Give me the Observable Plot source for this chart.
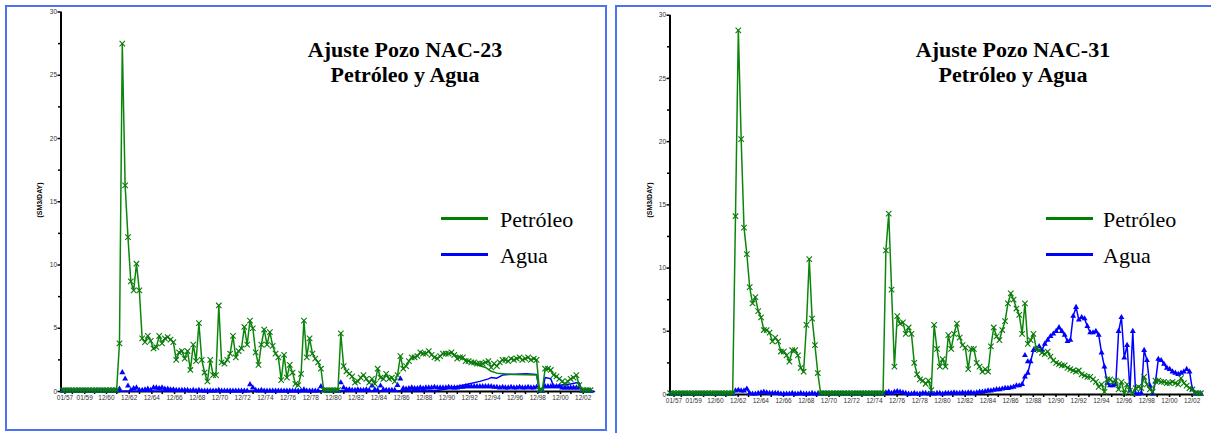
<!DOCTYPE html>
<html><head><meta charset="utf-8">
<script src="https://cdn.jsdelivr.net/npm/d3@7"></script>
<script src="https://cdn.jsdelivr.net/npm/@observablehq/plot@0.6"></script>
<style>
body{margin:0;background:#fff;width:1211px;height:433px;overflow:hidden;position:relative;font-family:"Liberation Sans",Arial,sans-serif}
.panel{position:absolute;border:2px solid #4a72f2;box-sizing:border-box}
.title{position:absolute;font-family:"Liberation Serif","Times New Roman",serif;font-weight:bold;font-size:22px;text-align:center;line-height:25px;white-space:nowrap;transform:translateX(-50%)}
.legtxt{position:absolute;font-family:"Liberation Serif","Times New Roman",serif;font-size:22px;line-height:25px;white-space:nowrap}
.legline{position:absolute;height:3px;width:47px}
.ylab{position:absolute;font-size:7px;font-weight:bold;white-space:nowrap;transform:translate(-50%,-50%) rotate(-90deg)}
.chart{position:absolute;top:0}
</style></head><body>
<div class="panel" style="left:5px;top:5px;width:602px;height:426px"></div>
<div class="panel" style="left:615px;top:5px;width:620px;height:460px"></div>
<div id="c1" class="chart" style="left:0px"></div>
<div id="c2" class="chart" style="left:615px"></div>

<div class="title" style="left:405px;top:37px">Ajuste Pozo NAC-23<br>Petróleo y Agua</div>
<div class="title" style="left:1013px;top:37px">Ajuste Pozo NAC-31<br>Petróleo y Agua</div>

<div class="legline" style="left:441px;top:217px;background:#008000"></div>
<div class="legtxt" style="left:500px;top:207px">Petróleo</div>
<div class="legline" style="left:441px;top:253px;background:#0000ff"></div>
<div class="legtxt" style="left:500px;top:243px">Agua</div>

<div class="legline" style="left:1046px;top:217px;background:#008000"></div>
<div class="legtxt" style="left:1103px;top:207px">Petróleo</div>
<div class="legline" style="left:1046px;top:253px;background:#0000ff"></div>
<div class="legtxt" style="left:1103px;top:243px">Agua</div>

<div class="ylab" style="left:39px;top:200px">(SM3/DAY)</div>
<div class="ylab" style="left:649px;top:200px">(SM3/DAY)</div>

<script>
// ---------- axis labels ----------
const xTickLabels = ["01/57","01/59","12/60","12/62","12/64","12/66","12/68","12/70","12/72","12/74","12/76","12/78","12/80","12/82","12/84","12/86","12/88","12/90","12/92","12/94","12/96","12/98","12/00","12/02"];
const yTicks = [0,5,10,15,20,25,30];
const yMinorTicks = [2.5,7.5,12.5,17.5,22.5,27.5];

// ---------- NAC-23 (quarterly history, first sample at oil23Start) ----------
const oil23Start = 1957.15;
const oil23 = [
0.1,0.1,0.1,0.1,0.1,0.1,0.1,0.1,0.1,0.1,0.1,0.1,0.1,0.1,0.1,0.1,0.1,0.1,0.1,
0.1,3.8,27.5,16.3,12.2,8.7,8.0,10.1,8.0,4.2,
3.9,4.4,4.0,3.4,3.5,4.4,3.8,4.2,4.3,4.1,
3.9,2.5,3.1,3.2,2.6,3.2,1.7,3.7,2.4,5.4,
2.5,1.5,0.8,2.5,1.3,1.3,6.8,2.3,2.2,2.5,
3.0,4.4,2.7,3.2,3.4,5.1,3.7,5.6,5.0,3.1,
2.1,3.7,4.9,3.7,4.7,3.6,3.0,2.7,0.9,2.9,
1.1,2.1,1.5,0.6,0.5,1.4,5.6,2.7,4.2,3.0,
2.6,2.3,1.8,0.1,
0.1,0.1,0.1,0.1,0.1,
4.6,2.0,1.6,1.4,1.2,
0.7,0.8,1.1,1.3,1.0,0.7,1.0,0.6,1.8,1.1,1.0,1.4,1.0,1.1,0.8,1.3,
2.8,
1.8,2.0,2.4,2.7,2.7,2.8,3.1,3.0,3.0,3.2,
2.9,2.7,2.6,2.8,3.0,3.0,3.0,3.1,2.9,2.6,
2.7,2.7,2.4,2.4,2.3,2.3,2.2,2.2,2.2,2.3,
2.4,1.9,2.2,2.0,2.3,2.5,2.5,2.4,2.6,2.5,
2.6,2.7,2.5,2.6,2.7,2.5,2.6,2.5,
0.1,0.1,1.8,1.8,1.7,1.3,1.2,1.0,0.8,0.6,0.8,1.0,1.1,1.3,0.5,0.1,0.1,0.1,0.1
];
const water23Start = 1957.15;
const water23 = [
0.03,0.03,0.03,0.03,0.03,0.03,0.03,0.03,0.03,0.03,0.03,0.03,0.03,0.03,0.03,0.03,0.03,0.03,0.03,
0.05,0.2,1.5,1.0,0.45,0.1,0.25,0.3,0.1,0.1,
0.15,0.2,0.1,0.3,0.3,0.25,0.3,0.2,0.2,0.15,
0.15,0.1,0.1,0.1,0.1,0.1,0.05,0.1,0.05,0.1,
0.05,0.05,0.05,0.05,0.05,0.05,0.1,0.05,0.05,0.05,
0.05,0.05,0.05,0.05,0.05,0.05,0.05,0.55,0.3,0.1,
0.05,0.1,0.05,0.05,0.05,0.05,0.05,0.05,0.05,0.05,
0.05,0.05,0.05,0.05,0.05,0.05,0.15,0.05,0.05,0.05,
0.05,0.05,0.4,0.1,0.03,0.03,0.03,0.03,0.03,0.7,
0.3,0.15,0.15,0.1,0.1,0.15,0.1,0.1,0.15,0.1,
0.45,0.15,0.1,0.45,0.15,0.1,0.1,0.1,0.1,0.5,
1.0,0.25,0.2,0.25,0.3,0.25,0.25,0.3,0.25,0.3,
0.3,0.3,0.35,0.3,0.3,0.3,0.3,0.35,0.3,0.3,
0.3,0.35,0.35,0.4,0.4,0.4,0.4,0.4,0.4,0.4,
0.4,0.4,0.4,0.35,0.35,0.3,0.35,0.3,0.3,0.35,
0.3,0.3,0.35,0.3,0.3,0.35,0.3,0.3,0.35,0.03,
0.03,0.4,0.4,0.4,0.4,0.4,0.4,0.3,0.3,0.3,
0.3,0.3,0.3,0.3,0.03,0.03,0.03,0.03
];
// simulated curves where they depart from the history: [year, value]
const oil23Sim = [[1991.4,3.0],[1992.4,2.6],[1993.4,2.2],[1994.4,1.9],[1994.9,1.6],[1995.4,1.45],[1996.9,1.35],[1998.9,1.3],[1999.15,0.1]];
const water23Sim = [[1957,0.02],[1990.0,0.05],[1990.9,0.2],[1991.9,0.4],[1992.9,0.6],[1993.9,0.8],[1994.65,1.0],[1994.9,1.1],[1995.4,1.05],[1995.9,1.3],[1996.4,1.35],[1998.0,1.4],[1998.9,1.35],[1999.15,0.0],[1999.4,0.0],[1999.65,1.1],[2000.15,1.0],[2000.4,0.4],[2000.9,0.5],[2001.9,0.6],[2002.4,0.7],[2002.65,0.7],[2002.9,0.0],[2004,0.0]];

// ---------- NAC-31 ----------
const oil31Start = 1957.02;
const oil31 = [
0.1,0.1,0.1,0.1,0.1,0.1,0.1,0.1,0.1,0.1,0.1,0.1,0.1,0.1,0.1,0.1,0.1,0.1,0.1,0.1,0.1,0.1,
0.1,
14.1,28.8,20.2,13.2,11.1,8.5,7.2,7.7,6.6,6.1,5.1,5.1,4.9,4.2,4.5,4.2,3.4,3.4,3.1,2.6,3.5,3.5,3.1,2.1,1.8,5.5,10.7,6.0,3.9,1.7,
0.1,0.1,0.1,0.1,0.1,0.1,0.1,0.1,0.1,0.1,0.1,0.1,0.1,0.1,0.1,0.1,0.1,0.1,0.1,0.1,0.1,0.1,0.1,
11.4,14.3,8.3,2.2,6.2,5.6,5.7,4.8,5.3,4.8,2.5,1.6,1.2,1.1,0.85,1.1,0.35,5.5,3.6,2.2,
2.8,2.2,4.7,3.6,4.8,5.6,4.5,3.9,3.7,2.0,
3.6,3.6,2.5,2.2,1.8,2.0,1.8,3.8,5.3,4.6,
4.3,5.1,5.8,7.2,8.0,7.5,6.8,6.3,4.8,7.2,
4.0,4.3,4.8,3.6,3.5,3.3,3.2,3.4,3.0,2.7,
2.5,2.4,2.3,2.3,2.1,2.0,1.9,1.8,1.9,1.6,
1.5,1.4,1.4,1.2,1.0,0.6,0.8,0.2,1.2,1.2,
1.0,1.1,0.4,1.0,0.1,0.8,0.3,0.1,0.5,0.6,
0.5,1.4,0.8,0.4,0.2,1.1,1.1,1.0,1.0,0.9,
0.9,1.0,0.9,0.8,1.3,0.9,0.7,0.5,0.4,0.1,
0.1,0.1
];
const water31Start = 1957.02;
const water31 = [
0.03,0.03,0.03,0.03,0.03,0.03,0.03,0.03,0.03,0.03,0.03,0.03,0.03,0.03,0.03,0.03,0.03,0.03,0.03,0.03,0.03,0.03,
0.03,0.3,0.35,0.3,0.3,0.45,0.1,0.05,0.05,0.1,
0.15,0.2,0.15,0.1,0.1,0.1,0.1,0.05,0.05,0.05,
0.05,0.1,0.05,0.05,0.1,0.05,0.05,0.05,0.1,0.05,
0.05,0.05,0.05,0.05,0.05,0.05,0.05,0.05,0.05,0.05,
0.05,0.05,0.05,0.05,0.05,0.05,0.05,0.05,0.05,0.05,
0.05,0.05,0.05,0.05,0.15,0.2,0.1,0.2,0.25,0.2,
0.15,0.1,0.05,0.05,0.1,0.05,0.05,0.1,0.1,0.05,
0.1,0.05,0.1,0.1,0.05,0.1,0.1,0.1,0.15,0.1,
0.1,0.15,0.1,0.15,0.15,0.1,0.15,0.2,0.2,0.25,
0.3,0.3,0.35,0.4,0.4,0.45,0.5,0.5,0.55,0.6,
0.7,0.7,0.8,1.4,1.7,2.6,3.5,3.6,3.8,3.5,
4.0,4.3,4.6,4.8,5.0,5.3,5.0,4.7,4.2,4.3,
6.2,6.9,5.9,6.1,6.0,5.4,4.9,4.9,5.0,4.7,
3.3,2.2,0.9,0.7,0.7,0.8,5.0,6.1,2.9,3.9,
0.3,5.0,0.05,0.05,0.1,3.5,2.7,0.7,0.05,1.0,
2.8,2.7,2.4,2.1,2.0,1.8,1.7,1.6,1.7,1.8,
2.0,1.8,0.4,0.05,0.05,0.05
];
const water31Extra = [[1988.27,3.1],[1988.52,2.6]];

// ---------- helpers ----------
const STEP = 0.25; // quarterly samples
const series = (start, vals) => vals.map((v, i) => ({t: start + i * STEP, v}));
const pairs = arr => arr.map(([t, v]) => ({t, v}));
const labelDate = s => { const [m, y] = s.split("/").map(Number); return (y < 50 ? 2000 : 1900) + y + (m - 1) / 12; };
const xTickDates = xTickLabels.map(labelDate);
const labelByDate = new Map(xTickDates.map((d, i) => [d, xTickLabels[i]]));
const xMinor = xTickDates.slice(1).map((d, i) => (d + xTickDates[i]) / 2);

const GREEN = "#0b860b", GREEN_MK = "#0a7a0a", BLUE = "#0000ff";

function chart({width, height, ml, mr, mt, mb, oil, water, oilSim, waterSim, waterExtra}) {
  const marks = [
    Plot.ruleX([1957], {y1: 0, y2: 30, stroke: "black", strokeWidth: 2}),
    Plot.ruleY([0], {x1: 1957, x2: 2004, stroke: "black", strokeWidth: 2}),
    Plot.axisY({ticks: yTicks, tickSize: 3, tickPadding: 1, stroke: "black", strokeWidth: 1.5, fill: "#333", label: null}),
    Plot.axisY({ticks: yMinorTicks, tickSize: 2.5, stroke: "black", strokeWidth: 1.5, tickFormat: () => "", label: null}),
    Plot.axisX({ticks: xTickDates.slice(0, 1), tickSize: 3, tickPadding: 1, stroke: "black", strokeWidth: 1.5, fill: "#333", dx: 4, tickFormat: d => labelByDate.get(d), label: null}),
    Plot.axisX({ticks: xTickDates.slice(1), tickSize: 3, tickPadding: 1, stroke: "black", strokeWidth: 1.5, fill: "#333", dx: 1, tickFormat: d => labelByDate.get(d), label: null}),
    Plot.axisX({ticks: xMinor, tickSize: 3, stroke: "black", strokeWidth: 1.5, tickFormat: () => "", label: null}),
  ];
  if (waterSim) marks.push(Plot.line(waterSim, {x: "t", y: "v", stroke: BLUE, strokeWidth: 1.5}));
  else marks.push(Plot.line(water, {x: "t", y: "v", stroke: BLUE, strokeWidth: 1.5}));
  marks.push(Plot.dot(water, {x: "t", y: "v", symbol: "triangle", r: 2.2, fill: BLUE, stroke: "none"}));
  if (waterExtra) marks.push(Plot.dot(waterExtra, {x: "t", y: "v", symbol: "triangle", r: 2.2, fill: BLUE, stroke: "none"}));
  marks.push(Plot.line(oil, {x: "t", y: "v", stroke: GREEN, strokeWidth: 1.5}));
  if (oilSim) marks.push(Plot.line(oilSim, {x: "t", y: "v", stroke: GREEN, strokeWidth: 1.5}));
  marks.push(Plot.dot(oil, {x: "t", y: "v", symbol: "times", r: 2.6, stroke: GREEN_MK, strokeWidth: 1.1}));
  return Plot.plot({
    width, height, marginLeft: ml, marginRight: mr, marginTop: mt, marginBottom: mb,
    style: {background: "none", fontFamily: "'Liberation Sans', Arial, sans-serif", fontSize: "6.5px", overflow: "visible"},
    x: {domain: [1957, 2004]},
    y: {domain: [0, 30]},
    marks
  });
}

document.getElementById("c1").append(chart({
  width: 607, height: 431, ml: 60.5, mr: 13, mt: 11.5, mb: 40,
  oil: series(oil23Start, oil23), water: series(water23Start, water23),
  oilSim: pairs(oil23Sim), waterSim: pairs(water23Sim)
}));
document.getElementById("c2").append(chart({
  width: 596, height: 433, ml: 54.5, mr: 8, mt: 14.7, mb: 39,
  oil: series(oil31Start, oil31), water: series(water31Start, water31),
  waterExtra: pairs(water31Extra)
}));
</script>
</body></html>
